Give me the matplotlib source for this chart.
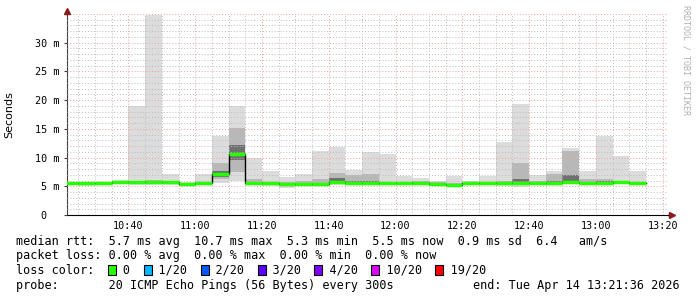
import numpy as np
import matplotlib
matplotlib.use("Agg")
import matplotlib.pyplot as plt
from matplotlib.patches import Rectangle
from matplotlib.ticker import MultipleLocator, FuncFormatter

# 5 minute slots, values in milliseconds
slot_start = ["10:20", "10:25", "10:30", "10:35", "10:40", "10:45", "10:50",
              "10:55", "11:00", "11:05", "11:10", "11:15", "11:20", "11:25",
              "11:30", "11:35", "11:40", "11:45", "11:50", "11:55", "12:00",
              "12:05", "12:10", "12:15", "12:20", "12:25", "12:30", "12:35",
              "12:40", "12:45", "12:50", "12:55", "13:00", "13:05", "13:10"]
median = [5.5, 5.5, 5.5, 5.7, 5.7, 5.8, 5.7, 5.4, 5.6, 7.1, 10.7, 5.6, 5.5,
          5.4, 5.4, 5.4, 5.7, 5.6, 5.6, 5.6, 5.5, 5.6, 5.4, 5.3, 5.5, 5.5,
          5.6, 5.6, 5.6, 5.6, 5.7, 5.6, 5.6, 5.7, 5.5]
ping_min = [5.2, 5.0, 5.3, 5.4, 5.3, 5.3, 5.3, 5.0, 5.3, 5.6, 5.9, 5.3, 5.0,
            4.7, 5.0, 5.0, 5.3, 5.2, 5.3, 5.3, 5.2, 5.4, 5.2, 5.0, 5.3, 5.3,
            5.1, 4.9, 5.3, 5.3, 5.4, 5.4, 5.4, 5.4, 5.3]
ping_max = [5.6, 5.7, 5.8, 6.1, 18.9, 34.9, 7.2, 5.8, 7.2, 13.7, 18.9, 10.0,
            7.7, 6.6, 7.2, 11.2, 11.9, 7.9, 11.0, 10.7, 6.8, 6.4, 6.0, 6.8,
            5.9, 6.8, 12.7, 19.4, 7.05, 7.7, 11.6, 7.7, 13.7, 10.2, 7.6]
mid_lo = [5.3, 5.2, 5.4, 5.5, 5.5, 5.5, 5.5, 5.2, 5.4, 6.2, 7.5, 5.4, 5.3,
          5.1, 5.2, 5.2, 5.5, 5.4, 5.4, 5.4, 5.3, 5.5, 5.3, 5.1, 5.4, 5.4,
          5.3, 5.3, 5.4, 5.4, 5.5, 5.5, 5.5, 5.5, 5.4]
mid_hi = [5.6, 5.6, 5.6, 5.9, 5.9, 6.1, 5.9, 5.6, 5.8, 9.0, 15.2, 6.2, 5.8,
          5.8, 6.0, 6.2, 7.4, 6.9, 7.2, 5.8, 5.8, 5.9, 5.7, 5.6, 5.6, 5.7,
          6.0, 9.1, 6.0, 7.2, 11.1, 6.2, 6.2, 6.0, 5.8]
in_lo = [5.4, 5.4, 5.4, 5.6, 5.6, 5.6, 5.6, 5.3, 5.5, 6.6, 9.5, 5.5, 5.4,
         5.3, 5.3, 5.3, 5.6, 5.5, 5.5, 5.5, 5.4, 5.5, 5.3, 5.2, 5.4, 5.4,
         5.5, 5.5, 5.5, 5.5, 5.6, 5.5, 5.5, 5.6, 5.4]
in_hi = [5.5, 5.6, 5.6, 5.8, 5.8, 6.0, 5.8, 5.5, 5.7, 7.6, 12.2, 5.8, 5.6,
         5.6, 5.6, 5.6, 6.5, 6.0, 6.0, 5.7, 5.6, 5.7, 5.5, 5.4, 5.6, 5.6,
         5.8, 6.2, 5.8, 5.9, 7.0, 5.8, 5.9, 5.8, 5.6]

loss_labels = ["0", "1/20", "2/20", "3/20", "4/20", "10/20", "19/20"]
loss_colors = ["#26ff00", "#00b8ff", "#0059ff", "#5e00ff", "#7e00ff",
               "#dd00ff", "#ff0000"]

x0 = np.array([int(s[:2]) * 60 + int(s[3:]) for s in slot_start], float)
t_start = 10 * 60 + 21.6
t_end = 13 * 60 + 21.6

W, H = 697, 297
fig = plt.figure(figsize=(W / 100, H / 100), dpi=100)
ax = fig.add_axes([67 / W, (H - 215) / H, 601 / W, 201 / H])
mono = "DejaVu Sans Mono"

# smoke
ax.bar(x0, np.subtract(ping_max, ping_min), width=5, bottom=ping_min,
       align="edge", color="#dcdcdc", linewidth=0, zorder=1)
ax.bar(x0, np.subtract(mid_hi, mid_lo), width=5, bottom=mid_lo,
       align="edge", color="#b8b8b8", linewidth=0, zorder=1.1)
ax.bar(x0, np.subtract(in_hi, in_lo), width=5, bottom=in_lo,
       align="edge", color="#707070", linewidth=0, zorder=1.2)

# median
xs = np.append(x0, x0[-1] + 5)
ax.step(xs, np.append(median, median[-1]), where="post", color="black",
        lw=1, zorder=3)
ax.hlines(median, x0, x0 + 5, color=loss_colors[0], lw=2.5, zorder=3.5)

ax.set_xlim(t_start, t_end)
ax.set_ylim(0, 35)

ax.xaxis.set_major_locator(MultipleLocator(20))
ax.xaxis.set_minor_locator(MultipleLocator(5))
ax.yaxis.set_major_locator(MultipleLocator(5))
ax.yaxis.set_minor_locator(MultipleLocator(1))
ax.xaxis.set_major_formatter(FuncFormatter(
    lambda v, p: "%02d:%02d" % (int(v) // 60, int(v) % 60)))
ax.yaxis.set_major_formatter(FuncFormatter(
    lambda v, p: "0  " if v == 0 else ("" if v > 30 else "%d m" % v)))

ax.grid(which="minor", color="#bcbcbc", lw=0.7, linestyle=(0, (1, 2)))
ax.grid(which="major", color="#eea0a0", lw=0.7, linestyle=(0, (1, 2)))
ax.set_axisbelow(False)

for side in ["top", "right"]:
    ax.spines[side].set_visible(False)
ax.spines["left"].set_color("#404040")
ax.spines["bottom"].set_color("black")
ax.tick_params(which="both", length=0)
ax.tick_params(axis="y", which="major", length=2.2, pad=3, color="#404040")
ax.tick_params(axis="x", which="major", pad=4)
for lab in ax.get_xticklabels() + ax.get_yticklabels():
    lab.set_fontfamily(mono)
    lab.set_fontsize(7.3)

ax.set_ylabel("Seconds", fontsize=8, labelpad=15)

# axis arrows
ax.plot([0, 0], [1, 1.01], color="#404040", lw=1, transform=ax.transAxes,
        clip_on=False)
ax.plot([0], [1.015], marker="^", ms=5, color="#8b1a1a",
        transform=ax.transAxes, clip_on=False, zorder=5)
ax.plot([1, 1.004], [0, 0], color="black", lw=1, transform=ax.transAxes,
        clip_on=False)
ax.plot([1.006], [0], marker=">", ms=5, color="#8b1a1a",
        transform=ax.transAxes, clip_on=False, zorder=5)

fig.text(686 / W, 1 - 5 / H, "RRDTOOL / TOBI OETIKER", rotation=-90,
         ha="center", va="top", family=mono, fontsize=6, color="#b0b0b0")

fs = 8.5
cw = 0.602 * fs * 100 / 72
rows = [241, 256, 270, 285]
fig.text(16 / W, 1 - rows[0] / H,
         "median rtt:  5.7 ms avg  10.7 ms max  5.3 ms min  5.5 ms now"
         "  0.9 ms sd  6.4   am/s", family=mono, fontsize=fs, va="center")
fig.text(16 / W, 1 - rows[1] / H,
         "packet loss: 0.00 % avg  0.00 % max  0.00 % min  0.00 % now",
         family=mono, fontsize=fs, va="center")

line = "loss color:  "
for lab, col in zip(loss_labels, loss_colors):
    px = 16 + len(line) * cw
    fig.add_artist(Rectangle((px / W, 1 - (rows[2] + 5) / H), 8 / W, 10 / H,
                             facecolor=col, edgecolor="black", lw=0.8,
                             transform=fig.transFigure))
    line += "  " + lab + "  "
fig.text(16 / W, 1 - rows[2] / H, line, family=mono, fontsize=fs,
         va="center")
fig.text(16 / W, 1 - rows[3] / H,
         "probe:       20 ICMP Echo Pings (56 Bytes) every 300s",
         family=mono, fontsize=fs, va="center")
fig.text(680 / W, 1 - rows[3] / H, "end: Tue Apr 14 13:21:36 2026",
         family=mono, fontsize=fs, va="center", ha="right")

fig.savefig("out.png", dpi=100)
